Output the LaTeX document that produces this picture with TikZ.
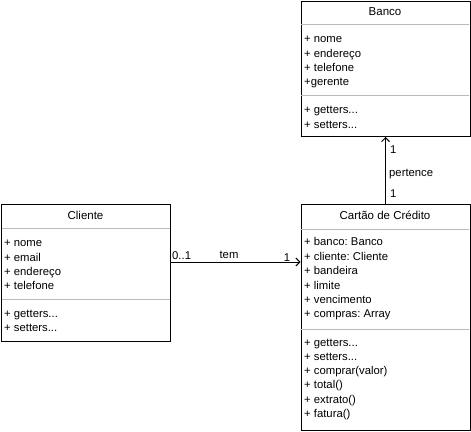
\documentclass[tikz,border=0pt]{standalone}
\usepackage{fontspec}
\setmainfont{Liberation Sans}
\usetikzlibrary{arrows.meta}
\frenchspacing
\begin{document}
\begin{tikzpicture}[x=1pt,y=-1pt,
  classbox/.style={draw=black,line width=1pt,inner sep=0pt,anchor=north west,fill=white},
  sepline/.style={draw=gray!55,line width=1pt},
  hdr/.style={font=\fontsize{11.5}{13}\selectfont,inner sep=0pt,anchor=base},
  txt/.style={font=\fontsize{11.3}{13}\selectfont,inner sep=0pt,anchor=base west},
  lbl/.style={font=\fontsize{11.3}{13}\selectfont,inner sep=0pt,anchor=base},
  assoc/.style={draw=black,line width=1pt,-{Straight Barb[length=4pt,width=8pt]}}]
\useasboundingbox (0,0) rectangle (471,431);
% Banco
\node[classbox,minimum width=169pt,minimum height=135pt] (banco) at (300.5,1) {};
\draw[sepline] (301,24.5) -- (469,24.5);
\draw[sepline] (301,95.5) -- (469,95.5);
\node[hdr] (bancoh) at (385,16) {Banco};
\node[txt] (b1) at (304,42) {+ nome};
\node[txt] (b2) at (304,57) {+ endereço};
\node[txt] (b3) at (304,71) {+ telefone};
\node[txt] (b4) at (304,85) {+gerente};
\node[txt] (b5) at (304,113) {+ getters...};
\node[txt] (b6) at (304,128) {+ setters...};
% Cliente
\node[classbox,minimum width=169pt,minimum height=137pt] (cliente) at (1,204) {};
\draw[sepline] (1.5,228.5) -- (169.5,228.5);
\draw[sepline] (1.5,299) -- (169.5,299);
\node[hdr] (clienteh) at (85.5,219) {Cliente};
\node[txt] (c1) at (4,246) {+ nome};
\node[txt] (c2) at (4,261) {+ email};
\node[txt] (c3) at (4,275) {+ endereço};
\node[txt] (c4) at (4,289) {+ telefone};
\node[txt] (c5) at (4,317) {+ getters...};
\node[txt] (c6) at (4,331) {+ setters...};
% Cartao
\node[classbox,minimum width=169pt,minimum height=226pt] (cartao) at (300.5,204) {};
\draw[sepline] (301,229) -- (469,229);
\draw[sepline] (301,329) -- (469,329);
\node[hdr] (cartaoh) at (385,219) {Cartão de Crédito};
\node[txt] (k1) at (304,245) {+ banco: Banco};
\node[txt] (k2) at (304,260) {+ cliente: Cliente};
\node[txt] (k3) at (304,274) {+ bandeira};
\node[txt] (k4) at (304,289) {+ limite};
\node[txt] (k5) at (304,303) {+ vencimento};
\node[txt] (k6) at (304,317) {+ compras: Array};
\node[txt] (k7) at (304,346) {+ getters...};
\node[txt] (k8) at (304,360) {+ setters...};
\node[txt] (k9) at (304,374) {+ comprar(valor)};
\node[txt] (k10) at (304,388) {+ total()};
\node[txt] (k11) at (304,403) {+ extrato()};
\node[txt] (k12) at (304,417) {+ fatura()};
% connectors
\draw[assoc] (cliente.north east |- 0,262) -- (cartao.north west |- 0,262);
\draw[assoc] (cartao.north) -- (banco.south);
\node[lbl,anchor=base west] (m1) at (172,259) {0..1};
\node[lbl] (m2) at (229,258) {tem};
\node[lbl] (m3) at (287,261) {1};
\node[lbl,anchor=base west] (m4) at (390,153) {1};
\node[lbl,anchor=base west] (m5) at (389,176) {pertence};
\node[lbl,anchor=base west] (m6) at (390,197) {1};
\end{tikzpicture}
\end{document}
